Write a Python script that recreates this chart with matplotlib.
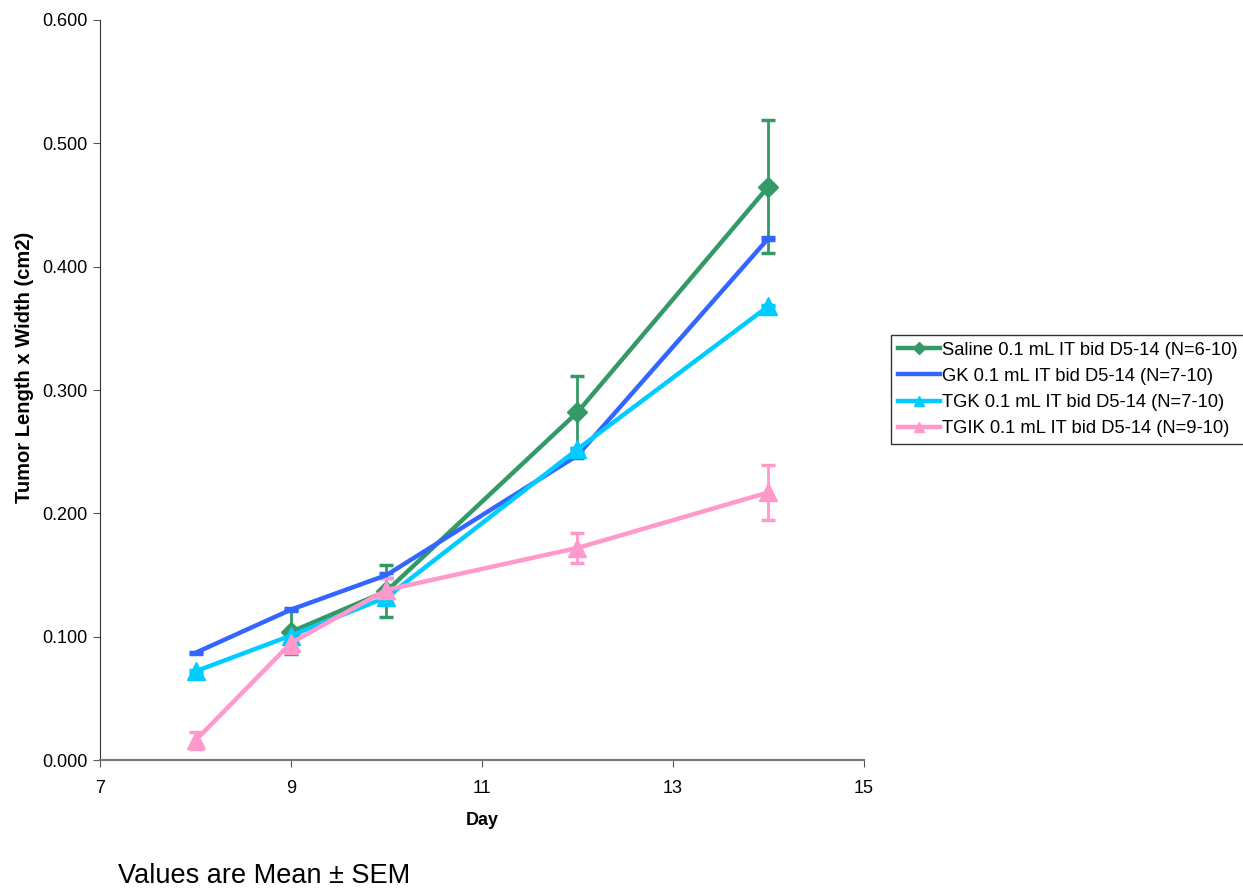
import matplotlib
matplotlib.use("Agg")
import matplotlib.pyplot as plt
from matplotlib.lines import Line2D

plt.rcParams['font.family'] = ['Liberation Sans', 'DejaVu Sans']

days_saline = [9, 10, 12, 14]
saline = [0.104, 0.137, 0.282, 0.465]
saline_err = [0.018, 0.021, 0.029, 0.054]

days_gk = [8, 9, 10, 12, 14]
gk = [0.087, 0.122, 0.150, 0.247, 0.423]
gk_err = [0.001, 0.001, 0.002, 0.002, 0.001]

days_tgk = [8, 9, 10, 12, 14]
tgk = [0.072, 0.101, 0.132, 0.252, 0.368]
tgk_err = [0.001, 0.001, 0.001, 0.001, 0.001]

days_tgik = [8, 9, 10, 12, 14]
tgik = [0.016, 0.095, 0.138, 0.172, 0.217]
tgik_err = [0.007, 0.008, 0.010, 0.012, 0.022]

labels = ["Saline 0.1 mL IT bid D5-14 (N=6-10)",
          "GK 0.1 mL IT bid D5-14 (N=7-10)",
          "TGK 0.1 mL IT bid D5-14 (N=7-10)",
          "TGIK 0.1 mL IT bid D5-14 (N=9-10)"]
colors = ["#339966", "#3366FF", "#00CCFF", "#FF99CC"]

fig = plt.figure(figsize=(12.43, 8.88), dpi=100)
ax = fig.add_axes([0.0805, 0.144, 0.6145, 0.8335])

series = [(days_saline, saline, saline_err, 'D', 10.5),
          (days_gk, gk, gk_err, 'None', 0),
          (days_tgk, tgk, tgk_err, '^', 12.5),
          (days_tgik, tgik, tgik_err, '^', 12.5)]
handles = []
for (d, v, e, m, ms), lab, c in zip(series, labels, colors):
    ax.errorbar(d, v, yerr=e, color=c, lw=3.2, marker=m, ms=ms,
                elinewidth=2, capsize=5, capthick=2.5)
    handles.append(Line2D([], [], color=c, lw=3.2, marker=m, ms=ms * 0.6, label=lab))

ax.set_xlim(7, 15)
ax.set_ylim(0, 0.6)
ax.set_xticks([7, 9, 11, 13, 15])
ax.set_yticks([0, 0.1, 0.2, 0.3, 0.4, 0.5, 0.6])
ax.set_yticklabels([f"{t:.3f}" for t in [0, 0.1, 0.2, 0.3, 0.4, 0.5, 0.6]])
ax.tick_params(labelsize=13, direction='out', length=5, color='#555555')
ax.tick_params(axis='x', pad=9)
ax.tick_params(axis='y', pad=4)
ax.spines['top'].set_visible(False)
ax.spines['right'].set_visible(False)
ax.spines['left'].set_color('#333333')
ax.spines['bottom'].set_color('#777777')
ax.spines['bottom'].set_linewidth(1.5)
ax.set_xlabel("Day", fontsize=13, fontweight='bold', labelpad=11)
ax.set_ylabel("Tumor Length x Width (cm2)", fontsize=14.5, fontweight='bold')
ax.yaxis.set_label_coords(-0.087, 0.531)

leg = ax.legend(handles=handles, loc='upper left', bbox_to_anchor=(1.036, 0.574),
                fontsize=13.2, frameon=True, fancybox=False, edgecolor='black',
                handlelength=2.3, handletextpad=0.1, borderpad=0.35,
                labelspacing=0.5, borderaxespad=0)
leg.get_frame().set_linewidth(1)

fig.text(0.095, 0.006, "Values are Mean ± SEM", fontsize=19.5, ha='left', va='baseline')

fig.savefig("out.png", dpi=100)
